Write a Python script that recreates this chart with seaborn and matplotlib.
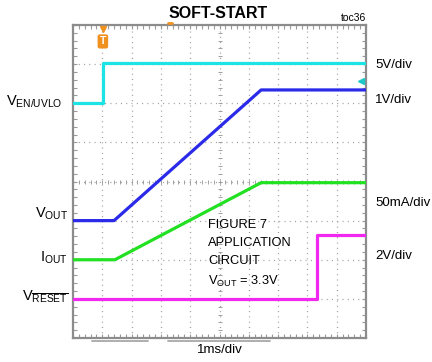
import matplotlib
matplotlib.use("Agg")
import matplotlib.pyplot as plt
from matplotlib.lines import Line2D
from matplotlib.ticker import MultipleLocator
import numpy as np
import pandas as pd
import seaborn as sns

# Scope traces: time in divisions (1 ms/div), level in screen divisions
en_t = [0.0, 1.02, 1.02, 10.0]
en_v = [6.0, 6.0, 7.02, 7.02]
vout_t = [0.0, 1.40, 6.42, 10.0]
vout_v = [3.0, 3.0, 6.34, 6.34]
iout_t = [0.0, 1.43, 6.42, 10.0]
iout_v = [2.0, 2.0, 3.97, 3.97]
rst_t = [0.0, 8.33, 8.33, 10.0]
rst_v = [1.0, 1.0, 2.62, 2.62]

trace_colors = ["#1CE4E4", "#2A2AE8", "#22E022", "#F028F0"]
scale_labels = ["5V/div", "1V/div", "50mA/div", "2V/div"]
channel_labels = [r"$\mathregular{V_{EN/UVLO}}$", r"$\mathregular{V_{OUT}}$",
                  r"$\mathregular{I_{OUT}}$", r"$\mathregular{V_{\overline{RESET}}}$"]
note_lines = ["FIGURE 7", "APPLICATION", "CIRCUIT", r"$\mathregular{V_{OUT}}$ = 3.3V"]

sns.set_style("white")
plt.rcParams["font.family"] = ["Liberation Sans", "DejaVu Sans"]
plt.rcParams["mathtext.fontset"] = "custom"
plt.rcParams["mathtext.rm"] = "Liberation Sans"
plt.rcParams["text.color"] = "black"

W, H = 432, 362
fig = plt.figure(figsize=(W / 100, H / 100), dpi=100)
ax = fig.add_axes([73 / W, (H - 338) / H, 293 / W, 313 / H])
ax.set_xlim(0, 10)
ax.set_ylim(0, 8)

# graticule: dotted grid at each division with dots every minor step
grid_kw = dict(color="#9A9A9A", lw=0.9, ls=(0, (0.8, 3.42)), zorder=1)
for gx in range(1, 10):
    ax.axvline(gx, **grid_kw)
for gy in range(1, 8):
    ax.axhline(gy, **grid_kw)
minor = np.arange(0, 10.01, 0.2)
ax.plot(minor, np.full_like(minor, 4.0), ls="none", marker="|", ms=3,
        mew=0.7, color="#A0A0A0", zorder=1)
minor_y = np.arange(0, 8.01, 0.2)
ax.plot(np.full_like(minor_y, 5.0), minor_y, ls="none", marker="_", ms=3,
        mew=0.7, color="#A0A0A0", zorder=1)

ax.xaxis.set_major_locator(MultipleLocator(1))
ax.xaxis.set_minor_locator(MultipleLocator(0.2))
ax.yaxis.set_major_locator(MultipleLocator(1))
ax.yaxis.set_minor_locator(MultipleLocator(0.2))
ax.tick_params(which="both", direction="in", length=3, width=0.8, color="#9A9A9A",
               top=True, right=True, bottom=True, left=True,
               labelbottom=False, labelleft=False)
for sp in ax.spines.values():
    sp.set_color("#8C8C8C")
    sp.set_linewidth(1.6)

traces = [(en_t, en_v), (vout_t, vout_v), (iout_t, iout_v), (rst_t, rst_v)]
for (t, v), c in zip(traces, trace_colors):
    sns.lineplot(x=t, y=v, estimator=None, sort=False, color=c, lw=2.3,
                 ax=ax, zorder=3)
ax.set_xlabel("")
ax.set_ylabel("")

# trigger marker and level arrow
ax.plot([1.02], [7.9], marker="v", ms=5, color="#F0901E", clip_on=False, zorder=5)
ax.text(1.02, 7.58, "T", ha="center", va="center", fontsize=7.5, weight="bold",
        color="white", zorder=5,
        bbox=dict(boxstyle="round,pad=0.2", fc="#F0901E", ec="none"))
ax.plot([9.82], [6.58], marker="<", ms=4.5, color="#1CC8C8", zorder=5)

# text around the screen
fig.text(218 / W, 1 - 13 / H, "SOFT-START", ha="center", va="center",
         fontsize=11.5, weight="bold")
fig.text(366 / W, 1 - 18 / H, "toc36", ha="right", va="center", fontsize=7.5)
fig.text(220 / W, 1 - 350 / H, "1ms/div", ha="center", va="center", fontsize=9.5)

for lab, y in zip(scale_labels, [65, 100, 203, 256]):
    fig.text(375 / W, 1 - y / H, lab, ha="left", va="center", fontsize=9.5)

for lab, (x, y) in zip(channel_labels, [(62, 102), (68, 214), (68, 258), (68, 297)]):
    fig.text(x / W, 1 - y / H, lab, ha="right", va="center", fontsize=10.5)

for lab, y in zip(note_lines, [225, 243, 261, 281]):
    fig.text(208 / W, 1 - y / H, lab, ha="left", va="center", fontsize=9.3)

# record position bars under the screen
for x0, x1 in [(92, 148), (168, 270)]:
    fig.add_artist(Line2D([x0 / W, x1 / W], [1 - 340.5 / H, 1 - 340.5 / H],
                          color="#A8A8A8", lw=1.3))
fig.add_artist(Line2D([168 / W, 172 / W], [1 - 23 / H, 1 - 23 / H],
                      color="#F0901E", lw=2))

fig.savefig("out.png", dpi=100)
